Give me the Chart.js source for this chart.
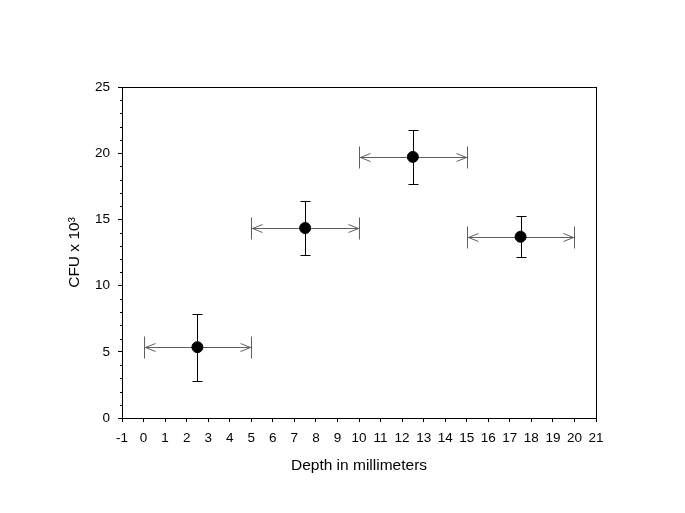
<!DOCTYPE html>
<html>
<head>
<meta charset="utf-8">
<script src="https://cdn.jsdelivr.net/npm/chart.js@4.4.1/dist/chart.umd.min.js"></script>
<style>
html,body{margin:0;padding:0;background:#fff;}
canvas{display:block;}
</style>
</head>
<body>
<canvas id="c" width="685" height="513"></canvas>
<script>
// Data
const depthMid   = [2.5, 7.5, 12.5, 17.5];
const cfuValues  = [5.35, 14.35, 19.72, 13.69];
const cfuUpper   = [7.85, 16.42, 21.75, 15.26];
const cfuLower   = [2.8, 12.3, 17.65, 12.13];
const depthLower = [0, 5, 10, 15];
const depthUpper = [5, 10, 15, 20];
const xTickMin = -1, xTickMax = 21, xStep = 1;
const yTickMin = 0, yTickMax = 25, yStep = 5, yMinorStep = 1;

const FONT = "'Liberation Sans', Arial, sans-serif";

const points = depthMid.map((x, i) => ({x: x, y: cfuValues[i]}));

const errorBars = {
  id: 'errorBars',
  beforeDatasetsDraw(chart) {
    const {ctx, scales: {x, y}} = chart;
    ctx.save();
    // horizontal (depth) bars: grey with open arrowheads and end caps
    ctx.strokeStyle = '#5f5f5f';
    ctx.lineWidth = 1;
    for (let i = 0; i < depthMid.length; i++) {
      const py = Math.round(y.getPixelForValue(cfuValues[i])) + 0.5;
      const xl = Math.round(x.getPixelForValue(depthLower[i])) + 0.5;
      const xr = Math.round(x.getPixelForValue(depthUpper[i])) + 0.5;
      ctx.beginPath();
      ctx.moveTo(xl, py); ctx.lineTo(xr, py);
      // caps
      ctx.moveTo(xl, py - 11); ctx.lineTo(xl, py + 11);
      ctx.moveTo(xr, py - 11); ctx.lineTo(xr, py + 11);
      // arrowheads
      ctx.moveTo(xl + 11, py - 4); ctx.lineTo(xl + 1, py); ctx.lineTo(xl + 11, py + 4);
      ctx.moveTo(xr - 11, py - 4); ctx.lineTo(xr - 1, py); ctx.lineTo(xr - 11, py + 4);
      ctx.stroke();
    }
    // vertical (CFU) bars: black with caps
    ctx.strokeStyle = '#000';
    for (let i = 0; i < depthMid.length; i++) {
      const px = Math.round(x.getPixelForValue(depthMid[i])) + 0.5;
      const yt = Math.round(y.getPixelForValue(cfuUpper[i])) + 0.5;
      const yb = Math.round(y.getPixelForValue(cfuLower[i])) + 0.5;
      ctx.beginPath();
      ctx.moveTo(px, yt); ctx.lineTo(px, yb);
      ctx.moveTo(px - 5, yt); ctx.lineTo(px + 5, yt);
      ctx.moveTo(px - 5, yb); ctx.lineTo(px + 5, yb);
      ctx.stroke();
    }
    ctx.restore();
  },
  afterDraw(chart) {
    const {ctx, chartArea: a, scales: {y}} = chart;
    ctx.save();
    ctx.strokeStyle = '#000';
    ctx.lineWidth = 1;
    ctx.strokeRect(Math.round(a.left) + 0.5, Math.round(a.top) + 0.5,
                   Math.round(a.right - a.left), Math.round(a.bottom - a.top));
    // minor y ticks
    ctx.beginPath();
    for (let v = yTickMin; v <= yTickMax; v += yMinorStep) {
      if (v % yStep === 0) continue;
      const py = Math.round(y.getPixelForValue(v)) + 0.5;
      ctx.moveTo(Math.round(a.left) - 2, py);
      ctx.lineTo(Math.round(a.left) + 0.5, py);
    }
    ctx.stroke();
    ctx.restore();
  }
};

new Chart(document.getElementById('c'), {
  type: 'scatter',
  data: {
    datasets: [{
      data: points,
      backgroundColor: '#000',
      borderColor: '#000',
      pointRadius: 5.5,
      pointHoverRadius: 5.5,
      showLine: false
    }]
  },
  options: {
    responsive: false,
    animation: false,
    devicePixelRatio: 1,
    layout: {padding: {top: 87, right: 89, left: 0, bottom: 0}},
    plugins: {legend: {display: false}, tooltip: {enabled: false}},
    scales: {
      x: {
        type: 'linear',
        min: xTickMin, max: xTickMax,
        afterFit(s) { s.height = 95; },
        grid: {drawOnChartArea: false, drawTicks: true, tickLength: 4, tickColor: '#000'},
        border: {display: true, color: '#000'},
        ticks: {stepSize: xStep, autoSkip: false, maxRotation: 0, color: '#000',
                font: {family: FONT, size: 13.5}, padding: 8},
        title: {display: true, text: 'Depth in millimeters', color: '#000',
                font: {family: FONT, size: 15.5}, padding: {top: 0, bottom: 38}}
      },
      y: {
        type: 'linear',
        min: yTickMin, max: yTickMax,
        afterFit(s) { s.width = 122; },
        grid: {drawOnChartArea: false, drawTicks: true, tickLength: 4, tickColor: '#000'},
        border: {display: true, color: '#000'},
        ticks: {stepSize: yStep, color: '#000', font: {family: FONT, size: 13.5}, padding: 8},
        title: {display: true, text: 'CFU x 10³', color: '#000',
                font: {family: FONT, size: 15.5}, padding: {top: 65, bottom: 0}}
      }
    }
  },
  plugins: [errorBars]
});
</script>
</body>
</html>
